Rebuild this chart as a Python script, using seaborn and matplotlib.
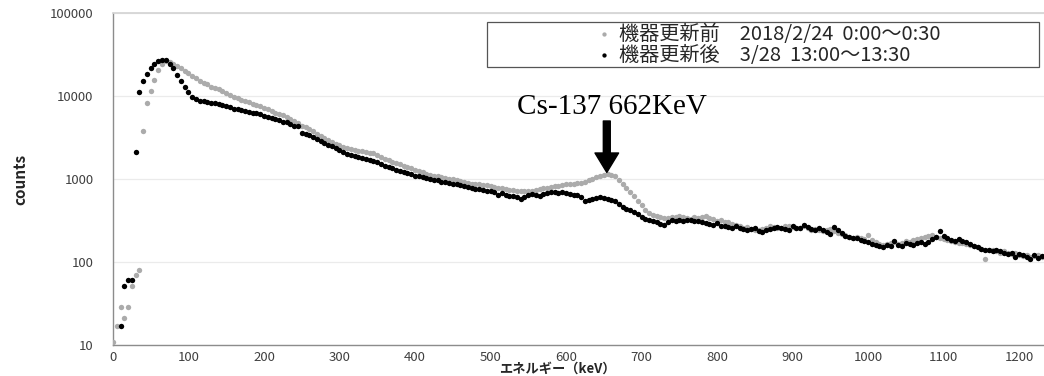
import numpy as np
import matplotlib
matplotlib.use("Agg")
import matplotlib.pyplot as plt
import seaborn as sns
from matplotlib.patches import Rectangle
from matplotlib.ticker import FixedLocator, FixedFormatter, NullLocator

# ── Data (5 keV channels) ──────────────────────────────────────────────
energy_kev = np.arange(0, 1235, 5)

before_counts = [
    11, 17, 29, 21, 29, 51, 70, 80, 3800, 8300,
    11500, 15500, 20400, 24500, 26500, 26000, 24500, 23000, 21500, 20000,
    19000, 17500, 16500, 15000, 14500, 13800, 13000, 12500, 12000, 11500,
    11000, 10300, 9800, 9400, 9000, 8800, 8500, 8100, 7800, 7500,
    7200, 6900, 6600, 6300, 6100, 5900, 5600, 5300, 5000, 4700,
    4400, 4200, 3950, 3750, 3500, 3300, 3100, 2950, 2800, 2650,
    2550, 2450, 2350, 2300, 2250, 2200, 2150, 2100, 2080, 2050,
    1950, 1850, 1750, 1680, 1620, 1580, 1500, 1450, 1400, 1350,
    1300, 1250, 1200, 1150, 1120, 1100, 1080, 1050, 1030, 1010,
    1000, 980, 950, 930, 900, 880, 870, 860, 850, 840,
    830, 810, 790, 780, 760, 740, 730, 720, 720, 710,
    720, 720, 740, 760, 780, 790, 800, 820, 830, 850,
    860, 870, 880, 890, 900, 920, 960, 1000, 1050, 1100,
    1130, 1150, 1120, 1080, 980, 880, 780, 700, 620, 540,
    480, 420, 390, 370, 355, 345, 340, 335, 345, 350,
    360, 350, 340, 330, 350, 340, 345, 360, 340, 330,
    310, 320, 300, 300, 290, 280, 270, 260, 265, 250,
    240, 245, 250, 260, 270, 265, 255, 260, 270, 275,
    265, 255, 260, 270, 255, 245, 250, 240, 235, 245,
    250, 235, 225, 215, 210, 200, 195, 200, 195, 190,
    210, 185, 175, 165, 160, 165, 170, 175, 165, 170,
    180, 175, 185, 190, 195, 200, 205, 210, 200, 195,
    190, 185, 180, 175, 170, 168, 165, 160, 158, 150,
    145, 110, 140, 138, 135, 130, 135, 128, 125, 130,
    120, 118, 122, 115, 118, 120, 115,
]

after_counts = [
    np.nan, np.nan, 17, 51, 60, 60, 2100, 11200, 15000, 18600,
    21800, 24500, 26500, 27000, 27000, 24500, 21800, 18000, 15000, 13000,
    11200, 9800, 9200, 8800, 8600, 8500, 8300, 8200, 8000, 7800,
    7600, 7300, 7000, 6900, 6800, 6600, 6500, 6300, 6200, 6000,
    5800, 5600, 5400, 5300, 5100, 4900, 4800, 4600, 4400, 4300,
    3600, 3500, 3350, 3200, 3050, 2900, 2750, 2600, 2500, 2350,
    2250, 2100, 2000, 1950, 1900, 1850, 1800, 1750, 1700, 1650,
    1600, 1520, 1450, 1400, 1350, 1300, 1250, 1200, 1170, 1140,
    1100, 1080, 1050, 1020, 1000, 980, 960, 930, 910, 890,
    880, 870, 850, 820, 800, 780, 760, 750, 730, 720,
    720, 700, 650, 680, 650, 630, 620, 600, 580, 600,
    640, 660, 650, 620, 660, 680, 700, 690, 680, 690,
    680, 660, 650, 640, 600, 540, 560, 580, 590, 600,
    590, 580, 560, 540, 500, 460, 430, 420, 400, 380,
    350, 330, 320, 310, 300, 290, 280, 300, 320, 315,
    320, 310, 325, 320, 310, 315, 300, 295, 285, 280,
    295, 275, 270, 265, 260, 270, 255, 250, 240, 250,
    255, 235, 230, 245, 250, 260, 265, 255, 250, 245,
    270, 260, 255, 280, 265, 250, 245, 255, 240, 230,
    215, 265, 240, 225, 205, 200, 195, 195, 185, 180,
    175, 165, 160, 155, 150, 160, 155, 180, 160, 155,
    170, 165, 160, 170, 175, 165, 175, 190, 200, 235,
    205, 195, 185, 180, 190, 180, 175, 165, 155, 150,
    145, 140, 140, 135, 140, 135, 130, 125, 130, 115,
    125, 120, 115, 110, 120, 112, 118,
]

series_labels = [
    "機器更新前　2018/2/24  0:00～0:30",
    "機器更新後　3/28  13:00～13:30",
]
y_ticks = [10, 100, 1000, 10000, 100000]
y_tick_labels = ["10", "100", "1000", "10000", "100000"]
x_ticks = [0, 100, 200, 300, 400, 500, 600, 700, 800, 900, 1000, 1100, 1200]

peak_label = "Cs-137 662KeV"
peak_energy = 654
peak_counts = 1200

# ── Style ─────────────────────────────────────────────────────
sns.set_theme(style="white")
plt.rcParams["font.family"] = ["Noto Sans CJK JP", "DejaVu Sans"]

fig = plt.figure(figsize=(10.44, 3.76), dpi=100)
ax = fig.add_axes([0.1082, 0.0824, 0.8918, 0.883])

sns.scatterplot(x=energy_kev, y=before_counts, color="#ababab", s=15,
                linewidth=0, ax=ax, legend=False, zorder=3)
sns.scatterplot(x=energy_kev, y=after_counts, color="black", s=15,
                linewidth=0, ax=ax, legend=False, zorder=4)

ax.set_yscale("log")
ax.set_ylim(10, 100000)
ax.set_xlim(0, 1233)
ax.yaxis.set_major_locator(FixedLocator(y_ticks))
ax.yaxis.set_major_formatter(FixedFormatter(y_tick_labels))
ax.yaxis.set_minor_locator(NullLocator())
ax.set_xticks(x_ticks)
ax.set_xticklabels([str(v) for v in x_ticks])

ax.grid(axis="y", color="#ebebeb", linewidth=0.9)
ax.grid(axis="x", visible=False)
for side in ["left", "bottom"]:
    ax.spines[side].set_color("#8c8c8c")
    ax.spines[side].set_linewidth(1.0)
ax.spines["top"].set_color("#d4d4d4")
ax.spines["right"].set_visible(False)

ax.tick_params(axis="both", length=0, labelsize=9.5, labelcolor="#404040")
ax.tick_params(axis="y", pad=14)
ax.tick_params(axis="x", pad=4)

ax.set_ylabel("counts", fontsize=11, fontweight="bold")
ax.yaxis.set_label_coords(-0.091, 0.5)
ax.set_xlabel("エネルギー（keV）", fontsize=9.5, fontweight="bold")
ax.xaxis.set_label_coords(0.477, -0.05)

# legend: centred content inside a fixed frame
frame_x0, frame_y0, frame_w, frame_h = 0.4017, 0.837, 0.593, 0.136
ax.add_patch(Rectangle((frame_x0, frame_y0), frame_w, frame_h,
                       transform=ax.transAxes, fill=True, facecolor="white",
                       edgecolor="#555555", linewidth=0.9, zorder=6))
handles = ax.collections[:2]
leg = ax.legend(handles, series_labels, loc="center",
                bbox_to_anchor=(frame_x0 + frame_w / 2 + 0.005,
                                frame_y0 + frame_h / 2),
                frameon=False, fontsize=14.5, labelspacing=0.0,
                handletextpad=0.3, handlelength=0.9, borderpad=0.0,
                markerscale=0.8)
leg.set_zorder(7)

# Cs-137 peak marker
ax.annotate("", xy=(peak_energy, peak_counts), xytext=(peak_energy, 5000),
            arrowprops=dict(facecolor="black", edgecolor="black", width=5,
                            headwidth=17, headlength=14, shrink=0), zorder=5)
ax.text(661, 7300, peak_label, ha="center", va="center", fontsize=21,
        family="Liberation Serif", color="black")

plt.savefig("out.png", dpi=100)
plt.close()
